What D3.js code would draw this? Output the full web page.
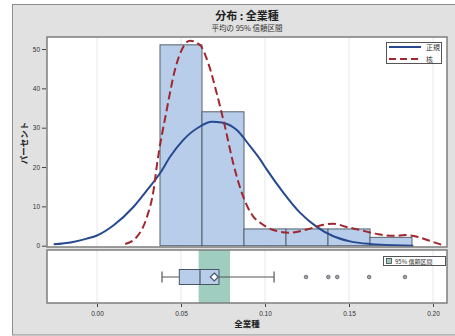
<!DOCTYPE html>
<html>
<head>
<meta charset="utf-8">
<script src="https://cdn.jsdelivr.net/npm/d3@7"></script>
<style>
  body { margin: 0; background: #fff; }
  svg text { font-family: "Noto Sans CJK JP", "Noto Sans", sans-serif; }
</style>
</head>
<body>
<svg id="chart" width="455" height="336"></svg>
<script>
// histogram bins (midpoints) and percentages
const binMids = [0.05, 0.075, 0.1, 0.125, 0.15, 0.175];
const binPct = [51.06, 34.04, 4.26, 4.26, 4.26, 2.13];
const binWidth = 0.025;

// normal fit curve
const normX = [-0.0258, -0.015, -0.006, 0.0, 0.0099, 0.0218, 0.0298, 0.0375, 0.0435, 0.0514, 0.0613, 0.0683, 0.0742, 0.0832, 0.0911, 0.097, 0.101, 0.1109, 0.1208, 0.1308, 0.1407, 0.1506, 0.1635, 0.1774, 0.1883];
const normY = [0.35, 0.9, 1.8, 2.6, 5.2, 9.9, 14.1, 18.4, 22.6, 26.9, 30.3, 31.5, 31.3, 29.4, 25.3, 22.0, 19.4, 13.5, 8.4, 4.8, 2.4, 1.1, 0.4, 0.1, 0.0];

// kernel density curve
const kernX = [0.0168, 0.0238, 0.0298, 0.0337, 0.0357, 0.0415, 0.0464, 0.0514, 0.0554, 0.0613, 0.0663, 0.0713, 0.0762, 0.0811, 0.0871, 0.093, 0.097, 0.1049, 0.1149, 0.1248, 0.1347, 0.1407, 0.1486, 0.1565, 0.1674, 0.1774, 0.1833, 0.1911, 0.1991, 0.2051];
const kernY = [0.43, 2.3, 7.4, 14.2, 20.6, 34.5, 44.7, 50.6, 52.1, 51.0, 46.3, 38.7, 30.2, 20.9, 12.4, 7.4, 5.9, 4.0, 3.3, 4.1, 5.3, 5.6, 4.75, 4.0, 2.9, 2.5, 2.7, 2.2, 1.1, 0.25];

// box plot stats
const boxStats = { lo: 0.0387, q1: 0.049, med: 0.0613, mean: 0.0698, q3: 0.0726, hi: 0.1054 };
const outliers = [0.1244, 0.1377, 0.143, 0.162, 0.1833];
const ciMean = [0.0605, 0.0792];

const xTicks = [0, 0.05, 0.1, 0.15, 0.2];
const yTicks = [0, 10, 20, 30, 40, 50];

const svg = d3.select('#chart');
const plotL = 47, plotR = 447;
const histT = 37, histB = 247;
const boxT = 250, boxB = 303;

const x = d3.scaleLinear().domain([0, 0.2]).range([97, 433]);
const y = d3.scaleLinear().domain([0, 50]).range([245.7, 49]);

// background frame
svg.append('rect').attr('x', 12.5).attr('y', 4.5).attr('width', 460).attr('height', 330.5)
  .attr('fill', '#e1e1e1').attr('stroke', '#8c8c8c').attr('stroke-width', 1);

// titles
svg.append('text').attr('x', 247).attr('y', 20).attr('text-anchor', 'middle')
  .style('font-size', '11px').style('font-weight', 'bold').attr('fill', '#222').text('分布 : 全業種');
svg.append('text').attr('x', 247).attr('y', 31).attr('text-anchor', 'middle')
  .style('font-size', '7.5px').attr('fill', '#333').text('平均の 95% 信頼区間');

// panels
[[histT, histB], [boxT, boxB]].forEach(([t, b]) => {
  svg.append('rect').attr('x', plotL).attr('y', t).attr('width', plotR - plotL).attr('height', b - t)
    .attr('fill', '#fff');
  svg.selectAll(null).data(xTicks).enter().append('line')
    .attr('x1', d => x(d)).attr('x2', d => x(d)).attr('y1', t).attr('y2', b)
    .attr('stroke', '#e8e8ec').attr('stroke-width', 1);
});

const histG = svg.append('g');
svg.append('clipPath').attr('id', 'hclip').append('rect')
  .attr('x', plotL).attr('y', histT).attr('width', plotR - plotL).attr('height', histB - histT);

// bars
histG.selectAll('rect.bar').data(binMids).enter().append('rect')
  .attr('class', 'bar')
  .attr('x', d => x(d - binWidth / 2))
  .attr('width', d => x(d + binWidth / 2) - x(d - binWidth / 2))
  .attr('y', (d, i) => y(binPct[i]))
  .attr('height', (d, i) => y(0) - y(binPct[i]))
  .attr('fill', '#b7cde9').attr('stroke', '#56606e').attr('stroke-width', 1);

const line = d3.line().curve(d3.curveMonotoneX).x(d => x(d[0])).y(d => y(d[1]));

histG.append('path').datum(normX.map((v, i) => [v, normY[i]]))
  .attr('d', line).attr('fill', 'none').attr('stroke', '#26498f').attr('stroke-width', 2)
  .attr('clip-path', 'url(#hclip)');
histG.append('path').datum(kernX.map((v, i) => [v, kernY[i]]))
  .attr('d', line).attr('fill', 'none').attr('stroke', '#a1262f').attr('stroke-width', 2)
  .attr('stroke-dasharray', '8,4').attr('clip-path', 'url(#hclip)');

// legend
const lg = svg.append('g');
lg.append('rect').attr('x', 386.5).attr('y', 42.5).attr('width', 55).attr('height', 21)
  .attr('fill', '#fff').attr('stroke', '#555').attr('stroke-width', 1);
lg.append('line').attr('x1', 389).attr('x2', 421).attr('y1', 47).attr('y2', 47)
  .attr('stroke', '#26498f').attr('stroke-width', 2);
lg.append('line').attr('x1', 389).attr('x2', 421).attr('y1', 59).attr('y2', 59)
  .attr('stroke', '#a1262f').attr('stroke-width', 2).attr('stroke-dasharray', '7,4');
lg.append('text').attr('x', 426).attr('y', 50).style('font-size', '7px').attr('fill', '#333').text('正規');
lg.append('text').attr('x', 426).attr('y', 62).style('font-size', '7px').attr('fill', '#333').text('核');

// box panel
const bg = svg.append('g');
const cy = 277;
bg.append('rect').attr('x', x(ciMean[0])).attr('width', x(ciMean[1]) - x(ciMean[0]))
  .attr('y', boxT).attr('height', boxB - boxT).attr('fill', '#9fcdc0');
bg.append('line').attr('x1', x(boxStats.lo)).attr('x2', x(boxStats.q1)).attr('y1', cy).attr('y2', cy)
  .attr('stroke', '#555').attr('stroke-width', 1);
bg.append('line').attr('x1', x(boxStats.q3)).attr('x2', x(boxStats.hi)).attr('y1', cy).attr('y2', cy)
  .attr('stroke', '#555').attr('stroke-width', 1);
[boxStats.lo, boxStats.hi].forEach(v => {
  bg.append('line').attr('x1', x(v)).attr('x2', x(v)).attr('y1', cy - 5.5).attr('y2', cy + 5.5)
    .attr('stroke', '#555').attr('stroke-width', 1.2);
});
bg.append('rect').attr('x', x(boxStats.q1)).attr('width', x(boxStats.q3) - x(boxStats.q1))
  .attr('y', 269.5).attr('height', 15).attr('fill', '#b7cde9').attr('stroke', '#4b5563').attr('stroke-width', 1);
bg.append('line').attr('x1', x(boxStats.med)).attr('x2', x(boxStats.med)).attr('y1', 269.5).attr('y2', 284.5)
  .attr('stroke', '#4b5563').attr('stroke-width', 1.2);
bg.append('path').attr('d', d3.symbol(d3.symbolDiamond2, 40)())
  .attr('transform', `translate(${x(boxStats.mean)},${cy})`)
  .attr('fill', '#fff').attr('stroke', '#4a5570').attr('stroke-width', 1.2);
bg.selectAll('circle.out').data(outliers).enter().append('circle')
  .attr('class', 'out').attr('cx', d => x(d)).attr('cy', cy).attr('r', 1.8)
  .attr('fill', '#a0a4aa').attr('stroke', '#5a5f66').attr('stroke-width', 0.8);

// box legend
bg.append('rect').attr('x', 383.5).attr('y', 256.5).attr('width', 62).attr('height', 9)
  .attr('fill', '#fff').attr('stroke', '#555').attr('stroke-width', 1);
bg.append('rect').attr('x', 386.5).attr('y', 258.5).attr('width', 5).attr('height', 5)
  .attr('fill', '#9fcdc0').attr('stroke', '#444').attr('stroke-width', 0.8);
bg.append('text').attr('x', 395).attr('y', 263.5).style('font-size', '6px').attr('fill', '#333').text('95% 信頼区間');

// panel borders
[[histT, histB], [boxT, boxB]].forEach(([t, b]) => {
  svg.append('rect').attr('x', plotL).attr('y', t).attr('width', plotR - plotL).attr('height', b - t)
    .attr('fill', 'none').attr('stroke', '#7d7d7d').attr('stroke-width', 1.5);
});

// axes
const yAxis = svg.append('g').attr('transform', `translate(${plotL - 1},0)`)
  .call(d3.axisLeft(y).tickValues(yTicks).tickSize(4).tickPadding(2));
const xAxis = svg.append('g').attr('transform', `translate(0,${boxB + 1})`)
  .call(d3.axisBottom(x).tickValues(xTicks).tickSize(3).tickPadding(4).tickFormat(d3.format('.2f')));
[yAxis, xAxis].forEach(a => {
  a.select('.domain').remove();
  a.selectAll('.tick line').attr('stroke', '#444');
  a.selectAll('.tick text').style('font-size', '6.5px').style('font-family', '"Liberation Sans", sans-serif').attr('fill', '#333');
});

svg.append('text').attr('transform', 'translate(27,143) rotate(-90)').attr('text-anchor', 'middle')
  .style('font-size', '8.5px').style('font-weight', 'bold').attr('fill', '#222').text('パーセント');
svg.append('text').attr('x', 247).attr('y', 327).attr('text-anchor', 'middle')
  .style('font-size', '8.5px').style('font-weight', 'bold').attr('fill', '#222').text('全業種');
</script>
</body>
</html>
